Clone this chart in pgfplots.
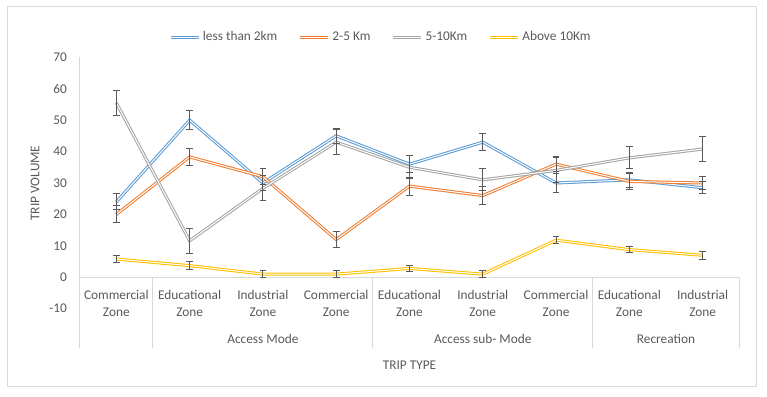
\documentclass[border=0pt]{standalone}
\usepackage{pgfplots}
\pgfplotsset{compat=1.18}
\usepackage{fontspec}
\setmainfont{Carlito}
\definecolor{cBlue}{HTML}{5B9BD5}
\definecolor{cOrange}{HTML}{ED7D31}
\definecolor{cGray}{HTML}{A5A5A5}
\definecolor{cYellow}{HTML}{FFC000}
\definecolor{txt}{HTML}{595959}
\definecolor{gridc}{HTML}{D9D9D9}
\definecolor{errc}{HTML}{595959}
\pgfplotsset{
  dbl/.style={draw=#1, line width=2.3pt},
  dblin/.style={draw=white, line width=0.75pt, forget plot},
  errstyle/.style={draw=none, forget plot,
    error bars/.cd, y dir=both, y explicit,
    error bar style={draw=errc, solid, line width=0.75pt},
    error mark options={draw=errc, line width=0.75pt, mark size=2.5pt, rotate=90}}
}
\begin{document}
\begin{tikzpicture}
\begin{axis}[
  name=ax,
  scale only axis, width=494.7pt, height=188.55pt,
  xmin=0.5, xmax=9.5, ymin=-10, ymax=70,
  clip=false,
  axis line style={draw=none},
  xtick=\empty,
  ytick={-10,0,...,70},
  major tick length=0pt,
  yticklabel style={font=\fontsize{10}{12}\selectfont, text=txt, anchor=east, xshift=-6pt},
  /pgf/number format/assume math mode=true,
  legend columns=4,
  legend style={at={(0.457,1.08)}, anchor=center, draw=none, fill=none,
    font=\fontsize{10}{12}\selectfont, text=txt,
    /tikz/every even column/.append style={column sep=14pt}},
  legend image code/.code={\draw[#1] (0pt,0pt) -- (21pt,0pt); \draw[white, line width=0.75pt] (0pt,0pt) -- (21pt,0pt);},
]
% frame lines
\draw[gridc, line width=0.75pt] (axis cs:0.5,70) -- (axis cs:0.5,-22.4);
\draw[gridc, line width=0.75pt] (axis cs:0.5,0) -- (axis cs:9.5,0);
\draw[gridc, line width=0.75pt] (axis cs:9.5,0) -- (axis cs:9.5,-22.4);
\draw[gridc, line width=0.75pt] (axis cs:1.5,0) -- (axis cs:1.5,-22.4);
\draw[gridc, line width=0.75pt] (axis cs:4.5,0) -- (axis cs:4.5,-22.4);
\draw[gridc, line width=0.75pt] (axis cs:7.5,0) -- (axis cs:7.5,-22.4);

\addplot[dbl=cBlue] table[x=x,y=y] {
x y
1 24
2 50
3 30
4 45
5 36
6 43
7 30
8 31
9 28.5
};
\addlegendentry{less than 2km}
\addplot[dblin] table[x=x,y=y] {
x y
1 24
2 50
3 30
4 45
5 36
6 43
7 30
8 31
9 28.5
};
\addplot[dbl=cOrange] table[x=x,y=y] {
x y
1 20
2 38.3
3 32
4 12
5 29
6 26
7 36
8 30.5
9 30
};
\addlegendentry{2-5 Km}
\addplot[dblin] table[x=x,y=y] {
x y
1 20
2 38.3
3 32
4 12
5 29
6 26
7 36
8 30.5
9 30
};
\addplot[dbl=cGray] table[x=x,y=y] {
x y
1 55.5
2 11.6
3 28.3
4 43
5 35
6 31
7 34
8 38
9 40.8
};
\addlegendentry{5-10Km}
\addplot[dblin] table[x=x,y=y] {
x y
1 55.5
2 11.6
3 28.3
4 43
5 35
6 31
7 34
8 38
9 40.8
};
\addplot[dbl=cYellow] table[x=x,y=y] {
x y
1 5.8
2 3.7
3 1
4 1
5 2.8
6 1
7 11.8
8 8.8
9 7
};
\addlegendentry{Above 10Km}
\addplot[dblin] table[x=x,y=y] {
x y
1 5.8
2 3.7
3 1
4 1
5 2.8
6 1
7 11.8
8 8.8
9 7
};

\addplot[errstyle] table[x=x,y=y,y error=e] {
x y e
1 24 2.5
2 50 3
3 30 2.5
4 45 2.5
5 36 2.6
6 43 2.7
7 30 3
8 31 2.5
9 28.5 2
};
\addplot[errstyle] table[x=x,y=y,y error=e] {
x y e
1 20 2.7
2 38.3 2.8
3 32 2.5
4 12 2.6
5 29 2.9
6 26 2.8
7 36 2.3
8 30.5 2.5
9 30 2.2
};
\addplot[errstyle] table[x=x,y=y,y error=e] {
x y e
1 55.5 4
2 11.6 4
3 28.3 4
4 43 4
5 35 3.6
6 31 3.5
7 34 4
8 38 3.5
9 40.8 4
};
\addplot[errstyle] table[x=x,y=y,y error=e] {
x y e
1 5.8 1
2 3.7 1.2
3 1 1
4 1 1
5 2.8 1
6 1 1
7 11.8 1.2
8 8.8 1
9 7 1.2
};

% category labels
\foreach \i/\a/\b in {1/Commercial/Zone, 2/Educational/Zone, 3/Industrial/Zone, 4/Commercial/Zone, 5/Educational/Zone, 6/Industrial/Zone, 7/Commercial/Zone, 8/Educational/Zone, 9/Industrial/Zone}{
  \edef\tmp{\noexpand\node[align=center, font=\noexpand\fontsize{10}{12.5}\noexpand\selectfont, text=txt] at (axis cs:\i,-8.3) {\a\noexpand\\\b};}
  \tmp
}
\node[font=\fontsize{10}{12}\selectfont, text=txt] at (axis cs:3,-19.5) {Access Mode};
\node[font=\fontsize{10}{12}\selectfont, text=txt] at (axis cs:6,-19.5) {Access sub- Mode};
\node[font=\fontsize{10}{12}\selectfont, text=txt] at (axis cs:8.5,-19.5) {Recreation};
\node[font=\fontsize{10}{12}\selectfont, text=txt] at (axis cs:5,-27.9) {TRIP TYPE};
\node[font=\fontsize{10}{12}\selectfont, text=txt, rotate=90] at (axis cs:-0.11,30) {TRIP VOLUME};
\end{axis}
\draw[gridc, line width=0.75pt] ([shift={(-54.3pt,-58.5pt)}]ax.south west) rectangle ([shift={(507.75pt,227pt)}]ax.south west);
\pgfresetboundingbox
\path[use as bounding box] ([shift={(-59.775pt,-65.475pt)}]ax.south west) rectangle ([shift={(515.475pt,231.525pt)}]ax.south west);
\end{tikzpicture}
\end{document}
